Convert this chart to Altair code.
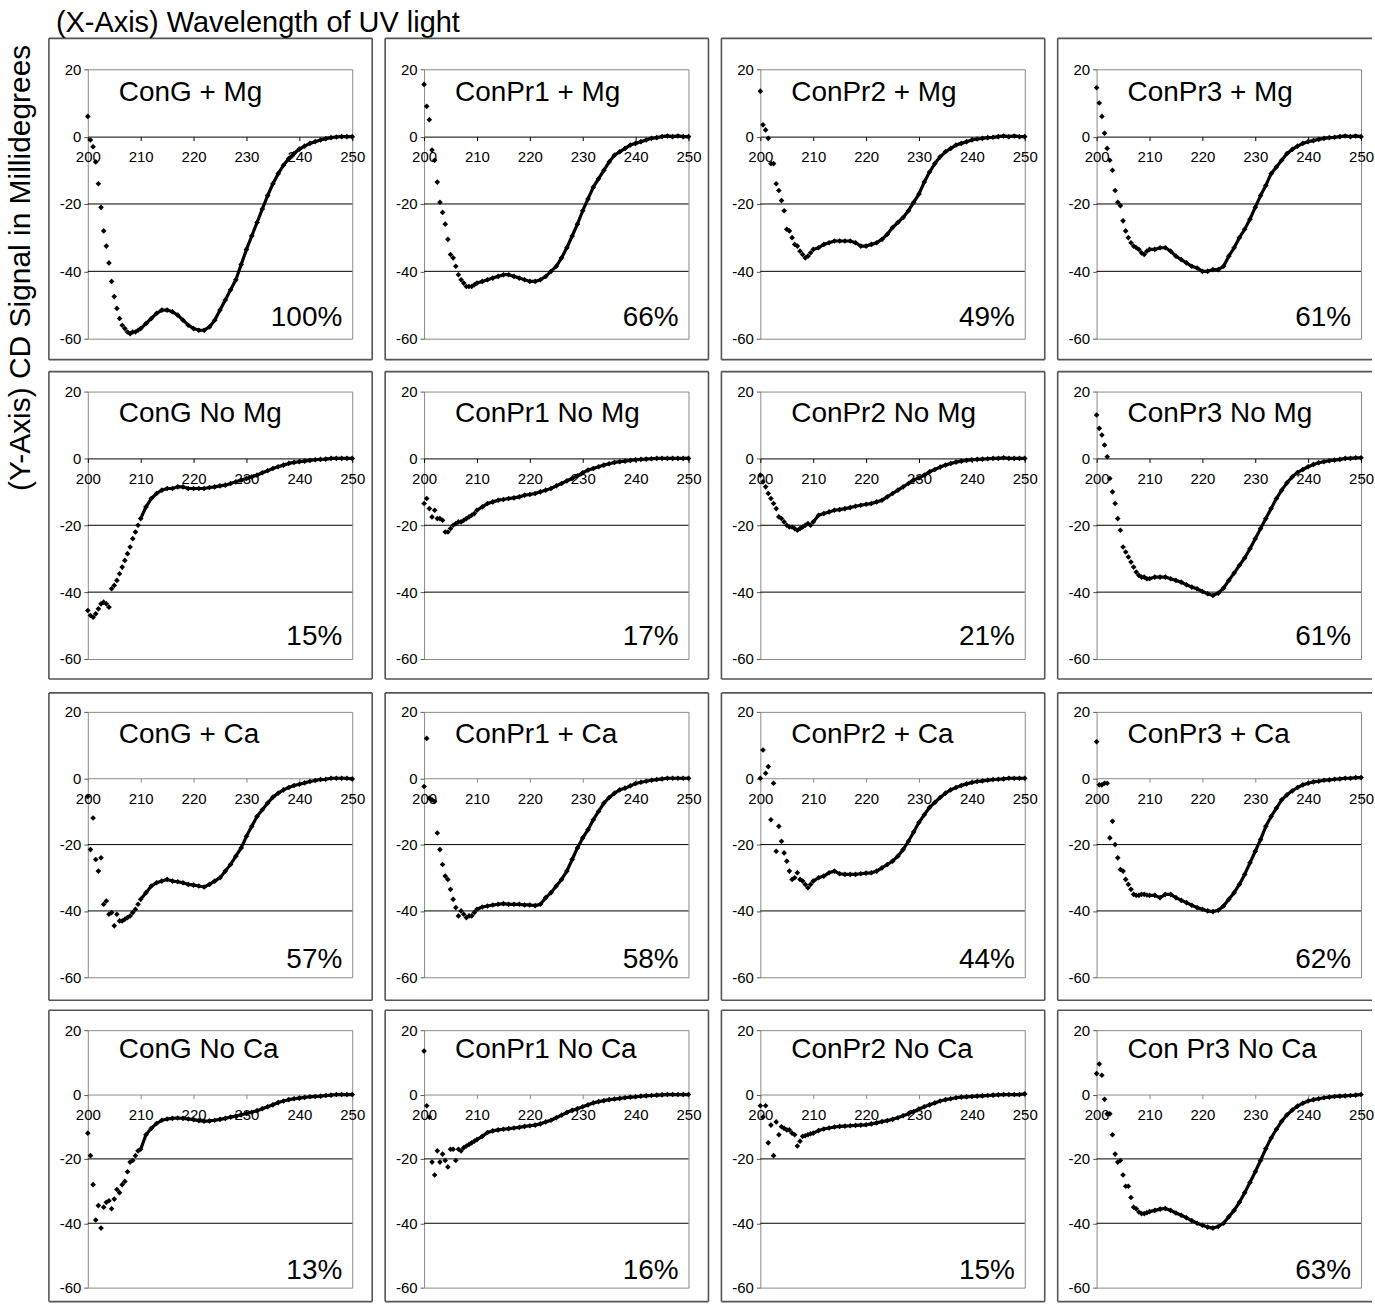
import altair as alt
import pandas as pd

FONT = "Liberation Sans"

# Wavelength grid (nm): half-nanometre steps up to 210 nm, then 1 nm steps
WAVELENGTHS = [200 + 0.5 * k for k in range(21)] + list(range(211, 251))

PANEL_TITLES = [
    "ConG + Mg", "ConPr1 + Mg", "ConPr2 + Mg", "ConPr3 + Mg",
    "ConG No Mg", "ConPr1 No Mg", "ConPr2 No Mg", "ConPr3 No Mg",
    "ConG + Ca", "ConPr1 + Ca", "ConPr2 + Ca", "ConPr3 + Ca",
    "ConG No Ca", "ConPr1 No Ca", "ConPr2 No Ca", "Con Pr3 No Ca",
]
HELIX_PERCENT = [
    "100%", "66%", "49%", "61%",
    "15%", "17%", "21%", "61%",
    "57%", "58%", "44%", "62%",
    "13%", "16%", "15%", "63%",
]

X_TICKS = [200, 210, 220, 230, 240, 250]
Y_TICKS = [20, 0, -20, -40, -60]
GRID_LEVELS = [-20, -40]

# CD signal (millidegrees) for each sample, on the WAVELENGTHS grid
CONG_MG = [6, -1, -3, -7.5, -14, -21, -28, -32.5, -37.5, -43, -47.5, -51, -54, -56, -57, -58, -58.5, -58, -58, -57.5, -57,
           -55.5, -54, -52.5, -51.5, -51.5, -52, -53, -54.5, -56, -57, -57.5, -57.5, -56.5, -54.5, -51.5, -48.5, -45.5, -42.5, -38, -33.5,
           -29.5, -25.5, -21.5, -17.5, -14, -11, -8.5, -6.5, -5, -3.7, -2.8, -2, -1.5, -1, -0.6, -0.3, -0.1, 0, 0, 0]
CONPR1_MG = [15.5, 9, 5, -4, -7, -13.5, -19.5, -22.5, -26, -30.5, -35, -36, -38.5, -41, -42.5, -43.5, -44.5, -44.5, -44.5, -44, -43.5,
             -43, -42.5, -42, -41.5, -41, -41, -41.5, -42, -42.5, -43, -43, -42.5, -41.5, -40, -38.5, -36, -33, -29.5, -26, -22,
             -18.5, -15, -12.5, -10, -7.5, -5.5, -4.5, -3.5, -2.5, -2, -1.5, -1, -0.5, -0.3, 0, 0.2, 0, 0.2, 0, 0]
CONPR2_MG = [13.5, 3.5, 2, -0.5, -8, -8, -14, -16, -19, -22, -27.5, -28, -30, -32, -32.5, -34, -35, -36, -35.5, -34.5, -33.5,
             -33, -32, -31.5, -31, -31, -31, -31, -31.5, -32.5, -32.5, -32, -31.5, -30.5, -29, -27, -25.5, -24, -22, -19.5, -17,
             -13.5, -10.5, -8, -6, -4.5, -3.5, -2.5, -2, -1.5, -1, -0.7, -0.5, -0.3, -0.2, 0, 0.2, 0, 0.2, 0, 0]
CONPR3_MG = [14.5, 10, 6, 1, -3.5, -7, -10, -16, -19.5, -20.5, -25, -28, -30, -31.5, -32.5, -33, -33.5, -34.5, -35, -34, -33.5,
             -33.5, -33, -33, -34, -35.5, -36.5, -37.5, -38.5, -39, -40, -40, -39.5, -39.5, -38.5, -35.5, -33, -30, -27.5, -24.5, -21,
             -17.5, -14.5, -11, -9, -7, -5, -3.8, -2.8, -2, -1.5, -1.2, -0.8, -0.5, -0.3, -0.2, 0, 0.2, 0, 0.2, 0]

CONG_NOMG = [-45.5, -47, -47.5, -46.5, -45, -43.5, -43, -43.5, -44.5, -39, -38, -36.5, -34.5, -32.5, -30.5, -28.5, -26.5, -24, -22, -20, -18,
             -14.5, -12, -10.5, -9.5, -9, -9, -8.5, -8.5, -9, -9, -9, -9, -8.7, -8.5, -8.2, -8, -7.5, -7, -6.5, -6,
             -5.5, -5, -4.3, -3.7, -3, -2.5, -2, -1.5, -1.2, -1, -0.8, -0.6, -0.4, -0.3, -0.2, 0, 0, 0, 0, 0]
CONPR1_NOMG = [-13.5, -12, -15, -17.5, -15.5, -18, -18, -18.5, -22, -22, -21, -20, -19.5, -19, -19, -18.5, -18, -17.5, -17, -16.5, -15.5,
               -14.5, -13.5, -13, -12.5, -12.3, -12, -11.8, -11.5, -11, -10.8, -10.5, -10, -9.5, -9, -8.2, -7.5, -6.7, -6, -5.2, -4.3,
               -3.5, -3, -2.5, -2, -1.6, -1.2, -1, -0.8, -0.6, -0.4, -0.3, -0.2, -0.1, 0, 0, 0, 0, 0, 0, 0]
CONPR2_NOMG = [-5, -7, -8.5, -10.5, -12, -13.5, -15, -17.5, -18, -19, -20, -20.5, -20.5, -21, -21.5, -21, -20.5, -20, -19.5, -20, -19,
               -17, -16.5, -16, -15.5, -15.3, -15, -14.7, -14.3, -14, -13.7, -13.5, -13, -12.5, -11.5, -10.5, -9.5, -8.5, -7.5, -6.5, -5.8,
               -5, -4, -3.3, -2.6, -2, -1.5, -1.1, -0.8, -0.6, -0.4, -0.3, -0.2, -0.1, 0, 0, 0.2, 0, 0, 0, 0]
CONPR3_NOMG = [13, 9, 7, 4, 0.5, -6, -10, -13.5, -18, -21.5, -26.5, -28, -29.5, -31, -32.5, -34, -35, -35.5, -35.5, -36, -36,
               -35.5, -35.5, -35.5, -36, -36.5, -37, -37.8, -38.5, -39, -39.8, -40.5, -41, -40.3, -38.8, -36.5, -34.3, -32, -29.8, -27, -24,
               -21, -18, -15, -12, -9.5, -7.3, -5.5, -4.2, -3.3, -2.5, -1.8, -1.3, -1, -0.7, -0.5, -0.3, 0, 0, 0.2, 0.2]

CONG_CA = [-5.5, -21.5, -12, -24.5, -28, -24, -38, -37, -41, -40.5, -44.5, -41, -43, -43, -42.5, -42, -41.5, -40.5, -39.5, -38, -36.5,
           -34.5, -32.5, -31.5, -31, -30.5, -31, -31.2, -31.5, -32, -32.2, -32.5, -32.8, -32, -31, -30, -28, -26, -23.5, -21, -17.5,
           -14.5, -11.5, -9.5, -7.5, -5.7, -4.5, -3.5, -2.8, -2.2, -1.8, -1.4, -1, -0.7, -0.4, -0.3, 0, 0, 0, 0, -0.2]
CONPR1_CA = [-2.5, 12, -6, -6.5, -7, -16.5, -21.5, -26, -29.5, -30.5, -33.5, -36.5, -39, -41.5, -40, -41, -42, -41.5, -41.5, -40.5, -39.5,
             -38.8, -38.5, -38.2, -38, -37.8, -38, -38, -38, -38.2, -38.2, -38.4, -38, -36, -34.5, -32.5, -30.5, -28, -24.5, -21, -18,
             -15.5, -12.5, -10, -7.5, -5.8, -4.5, -3.5, -3, -2.3, -1.6, -1.2, -0.9, -0.6, -0.4, -0.2, 0, 0, 0, 0, 0]
CONPR2_CA = [0, 8.5, 1.5, 3.5, -12.5, -1.5, -22, -14.5, -19, -22.5, -25, -28, -30.5, -30, -28.5, -30.5, -31, -32, -33, -32, -31,
             -30, -29.5, -28.5, -28, -28.8, -29, -29, -29, -28.8, -28.6, -28.5, -28, -27, -26, -25, -23.5, -21.5, -19, -16.2, -13.3,
             -11, -8.8, -7.3, -5.8, -4.5, -3.5, -2.8, -2.2, -1.7, -1.3, -1, -0.8, -0.6, -0.4, -0.3, -0.2, 0, 0, 0, 0]
CONPR3_CA = [11, -2, -2, -1.5, -1.5, -18, -13, -20, -24, -27.5, -28, -30.5, -32, -33.5, -35, -35.3, -35.3, -35, -35, -35.2, -35.3,
             -35.3, -36, -35, -35, -36, -36.8, -37.5, -38.3, -39, -39.5, -40, -40.2, -39.8, -38.5, -36.5, -34.5, -32, -29, -25.5, -22,
             -18.5, -14.5, -11.5, -9, -6.5, -5, -3.8, -2.8, -2, -1.5, -1.1, -0.9, -0.6, -0.5, -0.3, -0.2, 0, 0, 0.2, 0.2]

CONG_NOCA = [-12, -19, -28, -39, -34.5, -41.5, -35, -33.5, -33, -35.5, -32.5, -29.5, -30.5, -28, -27, -24, -21, -20.5, -19, -17.5, -17,
             -12.5, -10.5, -9, -8, -7.6, -7.4, -7.3, -7.4, -7.6, -7.8, -8.1, -8.3, -8.2, -8, -7.7, -7.4, -7, -6.7, -6.3, -5.9,
             -5.5, -5, -4.4, -3.8, -3.2, -2.5, -2, -1.6, -1.3, -1.1, -0.9, -0.7, -0.6, -0.5, -0.3, -0.2, 0, 0, 0, 0]
CONPR1_NOCA = [13.5, -3.5, -7, -21, -25, -17.5, -21, -18.5, -20.5, -22.5, -17, -17, -20.5, -17, -17.5, -16.5, -16, -15.5, -15, -14.5, -14,
               -13, -11.8, -11.3, -11, -10.8, -10.6, -10.4, -10.2, -9.9, -9.7, -9.5, -9.1, -8.5, -8, -7.2, -6.4, -5.6, -4.9, -4.4, -3.8,
               -3.2, -2.6, -2.2, -1.9, -1.6, -1.4, -1.2, -1, -0.8, -0.7, -0.5, -0.4, -0.3, -0.2, -0.1, 0, 0, 0, 0, 0]
CONPR2_NOCA = [-3.5, -7, -3.5, -15, -9.5, -19, -8.5, -12.5, -10, -10.5, -11, -11, -12, -12.5, -16, -14.5, -13, -12.8, -12.5, -12.2, -12,
               -11.2, -10.7, -10.4, -10.1, -9.9, -9.8, -9.7, -9.6, -9.5, -9.4, -9.1, -8.8, -8.4, -8.1, -7.7, -7.2, -6.6, -6, -5.3, -4.5,
               -3.8, -3.2, -2.6, -2, -1.6, -1.3, -1, -0.8, -0.7, -0.6, -0.5, -0.4, -0.3, -0.2, -0.1, 0, 0, 0, 0, 0.2]
CONPR3_NOCA = [6.5, 9.5, 6, -1.5, -6, -6, -12.5, -18.5, -21, -20.5, -25, -28.5, -28.5, -32, -35, -35.5, -36.5, -37, -37, -36.7, -36.4,
               -36, -35.6, -35.4, -36, -36.8, -37.5, -38.3, -39.2, -40, -40.6, -41.2, -41.5, -41, -40, -38, -36, -33.5, -30.5, -27.3, -24,
               -20.5, -16.8, -13.5, -10.8, -8.3, -6.3, -4.8, -3.6, -2.7, -2, -1.6, -1.3, -1, -0.8, -0.6, -0.5, -0.4, -0.3, -0.2, 0]

SERIES = [
    CONG_MG, CONPR1_MG, CONPR2_MG, CONPR3_MG,
    CONG_NOMG, CONPR1_NOMG, CONPR2_NOMG, CONPR3_NOMG,
    CONG_CA, CONPR1_CA, CONPR2_CA, CONPR3_CA,
    CONG_NOCA, CONPR1_NOCA, CONPR2_NOCA, CONPR3_NOCA,
]

# Panel geometry (pixels)
PANEL_W = 265
ROW_H = [270, 268, 266, 258]
BOX_LEFT, BOX_RIGHT = 39, 20
BOX_TOP = [31, 20, 19, 20]
BOX_BOTTOM = [21, 20, 23, 14]
TITLE_BASE = [32, 30, 31, 28]
PCT_BOTTOM = [13, 14, 9, 9]
BOX_COLOR = "#555555"

ONE = pd.DataFrame({"k": [0]})


def box_edges(row, col, h):
    """Outer frame around one panel, including its axis labels."""
    top, bottom = -BOX_TOP[row], h + BOX_BOTTOM[row]
    right = PANEL_W + (BOX_RIGHT if col < 3 else 11)
    base = alt.Chart(ONE).mark_rule(color=BOX_COLOR, strokeWidth=1.6)
    edges = [
        base.encode(x=alt.value(-BOX_LEFT), x2=alt.value(right), y=alt.value(top)),
        base.encode(x=alt.value(-BOX_LEFT), x2=alt.value(right), y=alt.value(bottom)),
        base.encode(x=alt.value(-BOX_LEFT), y=alt.value(top), y2=alt.value(bottom)),
    ]
    if col < 3:
        edges.append(base.encode(x=alt.value(right), y=alt.value(top), y2=alt.value(bottom)))
    return edges


def make_panel(idx):
    row, col = divmod(idx, 4)
    h = ROW_H[row]
    values = SERIES[idx]
    assert len(values) == len(WAVELENGTHS), (PANEL_TITLES[idx], len(values))
    spectrum = pd.DataFrame({"wavelength": WAVELENGTHS, "signal": values})
    zero_color = "black" if row < 2 else "#8c8c8c"

    x = alt.X(
        "wavelength:Q",
        scale=alt.Scale(domain=[200, 250], nice=False, zero=False),
        axis=alt.Axis(
            values=X_TICKS, title=None, grid=False, orient="bottom",
            offset=-h * 0.75,  # axis line sits on the zero level
            domainColor=zero_color, domainWidth=1,
            tickColor=zero_color, tickSize=4, labelPadding=9,
            labelFont=FONT, labelFontSize=15, labelColor="black",
            labelFlush=False, labelOverlap=False, labelAngle=0,
        ),
    )
    y = alt.Y(
        "signal:Q",
        scale=alt.Scale(domain=[-60, 20], nice=False, zero=False),
        axis=alt.Axis(
            values=Y_TICKS, title=None, grid=False, domain=False,
            tickColor="#555555", tickSize=4, labelPadding=3,
            labelFont=FONT, labelFontSize=15, labelColor="black",
            labelExpr="'' + datum.value", labelFlush=False, labelOverlap=False,
        ),
    )

    grid = alt.Chart(pd.DataFrame({"signal": GRID_LEVELS})).mark_rule(
        color="black", strokeWidth=1
    ).encode(y=y)

    # dense part of the scan reads as a continuous trace of overlapping dots
    trace = alt.Chart(spectrum).transform_filter(
        alt.datum.wavelength >= 210
    ).mark_line(color="black", strokeWidth=3.2, strokeJoin="round").encode(x=x, y=y)

    points = alt.Chart(spectrum).mark_point(
        shape="diamond", filled=True, size=32, color="black", opacity=1, strokeWidth=0
    ).encode(x=x, y=y)

    title = alt.Chart(pd.DataFrame({"label": [PANEL_TITLES[idx]]})).mark_text(
        align="left", baseline="alphabetic", font=FONT, fontSize=28, color="black"
    ).encode(x=alt.value(31), y=alt.value(TITLE_BASE[row]), text="label:N")

    pct = alt.Chart(pd.DataFrame({"label": [HELIX_PERCENT[idx]]})).mark_text(
        align="right", baseline="alphabetic", font=FONT, fontSize=28, color="black"
    ).encode(x=alt.value(PANEL_W - 10), y=alt.value(h - PCT_BOTTOM[row]), text="label:N")

    layers = [grid, trace, points, title, pct] + box_edges(row, col, h)

    if idx == 0:
        x_title = alt.Chart(pd.DataFrame({"label": ["(X-Axis) Wavelength of UV light"]})).mark_text(
            align="left", baseline="alphabetic", font=FONT, fontSize=29, color="black"
        ).encode(x=alt.value(-32), y=alt.value(-37), text="label:N")
        y_title = alt.Chart(pd.DataFrame({"label": ["(Y-Axis) CD Signal in Millidegrees"]})).mark_text(
            align="center", baseline="middle", angle=270, font=FONT, fontSize=30, color="black"
        ).encode(x=alt.value(-67), y=alt.value(199), text="label:N")
        layers += [x_title, y_title]

    return alt.layer(*layers).properties(width=PANEL_W, height=h)


panels = [make_panel(i) for i in range(16)]

chart = (
    alt.concat(*panels, columns=4, spacing={"row": 53, "column": 72}, bounds="flush")
    .properties(padding={"left": 5, "top": 7, "right": 0, "bottom": 0})
    .configure(background="white")
    .configure_view(stroke="#8a8a8a", strokeWidth=1)
)

chart.save("out.html", embed_options={"renderer": "svg", "actions": False})
